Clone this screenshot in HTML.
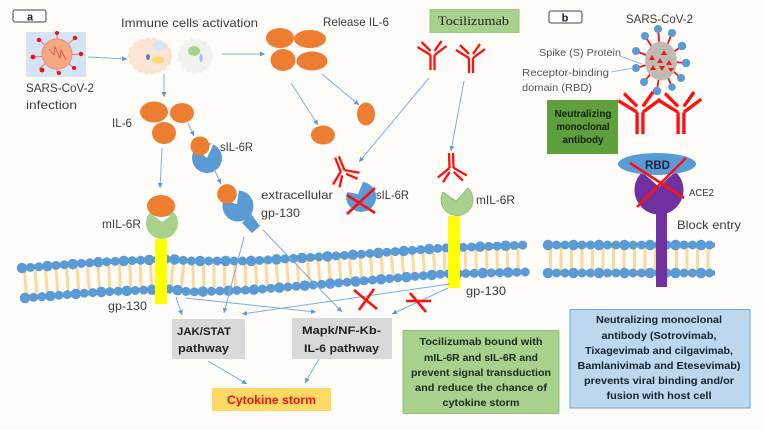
<!DOCTYPE html>
<html><head><meta charset="utf-8"><style>
html,body{margin:0;padding:0;background:#fdfcf8}
svg{display:block;filter:blur(.35px)}
text{font-family:"Liberation Sans",sans-serif;fill:#3c3c3c;font-size:11px}
.b{font-weight:bold;fill:#1c2a1c;font-size:10px;text-anchor:middle}
.g{font-weight:bold;fill:#222;font-size:11px}
.o{fill:#ed7d31}
.a line{stroke:#7ab0df;stroke-width:1;marker-end:url(#m)}
.x line{stroke:#ff1010;stroke-width:2.6}
.ab line{stroke:#ff0f0f;stroke-width:2.300}
</style></head><body>
<svg width="764" height="430" viewBox="0 0 764 430" xmlns="http://www.w3.org/2000/svg">
<defs>
<marker id="m" markerUnits="userSpaceOnUse" markerWidth="6" markerHeight="6" refX="5" refY="2.5" orient="auto"><path d="M0,0L5,2.5L0,5Z" fill="#5b9bd5"/></marker>
<g id="ab" class="ab">
<line x1="-2" y1="0" x2="-2" y2="-15"/><line x1="2" y1="0" x2="2" y2="-15"/>
<line x1="-2" y1="-15" x2="-15" y2="-23"/><line x1="2" y1="-15" x2="14" y2="-24"/>
<line x1="-2" y1="-19" x2="-11" y2="-28"/><line x1="2" y1="-19" x2="9" y2="-29"/>
</g>
</defs>
<rect width="764" height="430" fill="#fdfcf8"/>

<!-- labels a/b -->
<rect x="13" y="10" width="33" height="12" rx="2" fill="#fff" stroke="#444"/>
<text x="30" y="20.500" text-anchor="middle" style="font-size:11px;font-weight:bold;fill:#222">a</text>
<rect x="549" y="11" width="33" height="12" rx="2" fill="#fff" stroke="#444"/>
<text x="565" y="21.500" text-anchor="middle" style="font-size:11px;font-weight:bold;fill:#222">b</text>

<!-- infection virus -->
<rect x="26" y="32" width="60" height="45" fill="#d5e4f5"/>
<g stroke="#e8736a" stroke-width="1"><line x1="57" y1="33" x2="57" y2="73"/><line x1="75" y1="38" x2="39" y2="69"/><line x1="81" y1="54" x2="33" y2="57"/><line x1="74" y1="68" x2="39" y2="40"/></g>
<g fill="#f40f0f"><circle cx="57" cy="33" r="2"/><circle cx="75" cy="38" r="2.200"/><circle cx="81" cy="54" r="2.200"/><circle cx="74" cy="68" r="2"/><circle cx="59" cy="73" r="2"/><circle cx="42" cy="70" r="2.400"/><circle cx="33" cy="57" r="2.400"/><circle cx="39" cy="40" r="2.200"/></g>
<circle cx="57" cy="54" r="15" fill="#f4a981" stroke="#ee8a7a"/>
<path d="M49,49 L54,55 L55,47 L60,58 L61,50 L66,60" fill="none" stroke="#e8503a" stroke-width=".9"/>
<text x="26" y="92" textLength="68" lengthAdjust="spacingAndGlyphs" style="font-size:12px">SARS-CoV-2</text>
<text x="26" y="109" textLength="51" lengthAdjust="spacingAndGlyphs" style="font-size:12px">infection</text>

<!-- cells -->
<text x="121" y="27" textLength="137" lengthAdjust="spacingAndGlyphs" style="font-size:12px">Immune cells activation</text>
<ellipse cx="150" cy="56" rx="19" ry="15" fill="#fde5d6" stroke="#fde0ce" stroke-width="7" stroke-linecap="round" stroke-dasharray="0 6"/>
<ellipse cx="150" cy="56" rx="19" ry="15" fill="#fde5d6"/>
<ellipse cx="159" cy="46" rx="7" ry="5" fill="#dae3f3"/><ellipse cx="158" cy="60" rx="6" ry="3.500" fill="#ffd966"/><ellipse cx="148" cy="57" rx="2" ry="3" fill="#4a86c5"/>
<ellipse cx="195" cy="56" rx="14.500" ry="14.500" fill="#f1f1ee" stroke="#f1f1ee" stroke-width="7" stroke-linecap="round" stroke-dasharray="0 6"/>
<ellipse cx="194" cy="51" rx="6" ry="5" fill="#a9d18e"/><ellipse cx="201" cy="58" rx="1.700" ry="4" fill="#9dc3e6"/>

<!-- IL-6 cluster -->
<ellipse class="o" cx="154" cy="112" rx="14" ry="10.500"/><ellipse class="o" cx="182" cy="113" rx="12" ry="10"/><ellipse class="o" cx="164" cy="133" rx="12" ry="11"/>
<text x="112" y="127" textLength="20" lengthAdjust="spacingAndGlyphs" style="font-size:12px">IL-6</text>

<!-- sIL-6R -->
<circle cx="207" cy="158" r="15" fill="#5b9bd5"/><path d="M207,158 L214,143 L197,150Z" fill="#fff"/><circle class="o" cx="200" cy="146" r="9.500"/>
<text x="220" y="151" textLength="33" lengthAdjust="spacingAndGlyphs" style="font-size:12px">sIL-6R</text>

<!-- extracellular -->
<polygon points="242,223 251,214 260,226 252,233" fill="#5b9bd5"/>
<circle cx="238" cy="206" r="15.500" fill="#5b9bd5"/><path d="M237,204 L239,189 L224,201Z" fill="#fff"/><circle class="o" cx="227" cy="194" r="9.800"/>
<text x="261" y="199" textLength="72" lengthAdjust="spacingAndGlyphs" style="font-size:12px">extracellular</text>
<text x="261" y="217" textLength="39" lengthAdjust="spacingAndGlyphs" style="font-size:12px">gp-130</text>

<!-- membranes -->
<g fill="none">
<polyline points="24,283 100,277 170,274 190,276 250,275 350,268 443,261 527,258.600" stroke="#fbd99c" stroke-width="23" stroke-dasharray="3 7.500"/>
<polyline points="549,259 715,259" stroke="#fbd99c" stroke-width="23" stroke-dasharray="3 7.500"/>
<g stroke="#5b9bd5">
<polyline points="22,268 100,262 170,259 190,261 250,261 350,255 443,248 527,245" stroke-width="5"/>
<polyline points="25,298 100,292 170,289 190,292 250,290 350,282 443,274 527,272" stroke-width="5"/>
<polyline points="548,245 715,245" stroke-width="5"/>
<polyline points="548,273 715,273" stroke-width="5"/>
<g stroke-width="9" stroke-linecap="round" stroke-dasharray="0 8.500">
<polyline points="22,268 100,262 170,259 190,261 250,261 350,255 443,248 527,245"/>
<polyline points="25,298 100,292 170,289 190,292 250,290 350,282 443,274 527,272"/>
<polyline points="548,245 715,245"/>
<polyline points="548,273 715,273"/>
</g>
<g stroke-width="10.500" stroke-linecap="round" stroke-dasharray="0 25.500">
<polyline points="22,268 100,262 170,259 190,261 250,261 350,255 443,248 527,245"/>
<polyline points="25,298 100,292 170,289 190,292 250,290 350,282 443,274 527,272"/>
<polyline points="548,245 715,245"/>
<polyline points="548,273 715,273"/>
</g></g></g>

<!-- left receptor -->
<rect x="155" y="239" width="12" height="65" fill="#ffff00"/>
<circle cx="162" cy="223" r="16" fill="#a9d18e"/><path d="M154,216 L170,216 L162,222Z" fill="#fff"/>
<ellipse class="o" cx="161" cy="206" rx="14" ry="11"/>
<text x="102" y="228" textLength="39" lengthAdjust="spacingAndGlyphs" style="font-size:12px">mIL-6R</text>
<text x="108" y="310" textLength="39" lengthAdjust="spacingAndGlyphs" style="font-size:12px">gp-130</text>

<!-- release IL-6 -->
<text x="323" y="26" textLength="66" lengthAdjust="spacingAndGlyphs" style="font-size:12px">Release IL-6</text>
<ellipse class="o" cx="280" cy="38" rx="14" ry="10"/><ellipse class="o" cx="310" cy="39" rx="16" ry="9"/><ellipse class="o" cx="283" cy="60" rx="12.500" ry="11"/><ellipse class="o" cx="312" cy="61" rx="15.500" ry="9.500"/>
<ellipse class="o" cx="366" cy="114" rx="9" ry="11.500"/><ellipse class="o" cx="323" cy="135" rx="12" ry="9.500"/>

<!-- tocilizumab -->
<rect x="430" y="9.500" width="89" height="23" fill="#a9d18e" stroke="#8fc070" stroke-width=".8"/>
<text x="438" y="25" textLength="71" lengthAdjust="spacingAndGlyphs" style="font-family:'Liberation Serif',serif;font-size:13px;fill:#222">Tocilizumab</text>
<use href="#ab" transform="translate(432.500,70)"/>
<use href="#ab" transform="translate(471,73)"/>
<use href="#ab" transform="translate(451,153) rotate(178)"/>
<use href="#ab" transform="translate(337,157) rotate(158)"/>

<!-- blocked sIL-6R -->
<path d="M347,192 L358,194 L363,182 A15,15 0 1 1 347,192Z" fill="#5b9bd5"/>
<g class="x"><line x1="347" y1="195" x2="375" y2="213"/><line x1="375" y1="188" x2="347" y2="214"/></g>
<text x="376" y="199" textLength="33" lengthAdjust="spacingAndGlyphs" style="font-size:12px">sIL-6R</text>

<!-- right receptor -->
<rect x="448" y="216" width="12" height="72" fill="#ffff00"/>
<path d="M443,192 L456,201 L468,188 A16,16 0 1 1 443,192Z" fill="#a9d18e" stroke="#86b56a" stroke-width=".7"/>
<text x="476" y="204" textLength="39" lengthAdjust="spacingAndGlyphs" style="font-size:12px">mIL-6R</text>
<text x="466" y="295" textLength="40" lengthAdjust="spacingAndGlyphs" style="font-size:12px">gp-130</text>

<!-- arrows -->
<g class="a">
<line x1="88" y1="57" x2="127" y2="59"/>
<line x1="164" y1="74" x2="164" y2="97"/>
<line x1="222" y1="54" x2="265" y2="54"/>
<line x1="291" y1="83" x2="318" y2="125"/>
<line x1="322" y1="74" x2="359" y2="105"/>
<line x1="429" y1="78" x2="359" y2="162"/>
<line x1="464" y1="81" x2="451" y2="151"/>
<line x1="162" y1="148" x2="160" y2="188"/>
<line x1="188" y1="123" x2="194" y2="136"/>
<line x1="215" y1="171" x2="221" y2="184"/>
<line x1="244" y1="237" x2="224" y2="313"/>
<line x1="176" y1="297" x2="182" y2="315"/>
<line x1="185" y1="298" x2="316" y2="312"/>
<line x1="450" y1="284" x2="242" y2="314"/>
<line x1="263" y1="230" x2="342" y2="312"/>
<line x1="448" y1="288" x2="392" y2="314"/>
<line x1="208" y1="361" x2="247" y2="384"/>
<line x1="319" y1="359" x2="305" y2="383"/>
</g>

<!-- red X on membrane -->
<g class="x"><line x1="354" y1="290" x2="377" y2="309"/><line x1="374" y1="289" x2="359" y2="310"/><line x1="406" y1="301" x2="431" y2="301"/><line x1="410" y1="293" x2="426" y2="312"/></g>

<!-- pathway boxes -->
<rect x="172" y="319" width="73" height="40" fill="#d9d9d9"/>
<text class="g" x="177" y="335" textLength="54" lengthAdjust="spacingAndGlyphs">JAK/STAT</text>
<text class="g" x="178" y="352" textLength="51" lengthAdjust="spacingAndGlyphs">pathway</text>
<rect x="292" y="318" width="100" height="41" fill="#d9d9d9"/>
<text class="g" x="302" y="334" textLength="79" lengthAdjust="spacingAndGlyphs">Mapk/NF-Kb-</text>
<text class="g" x="304" y="352" textLength="75" lengthAdjust="spacingAndGlyphs">IL-6 pathway</text>
<rect x="212" y="388" width="119" height="23" fill="#ffd966"/>
<text x="227" y="404" textLength="89" lengthAdjust="spacingAndGlyphs" style="font-size:11.500px;font-weight:bold;fill:#f01010">Cytokine storm</text>

<!-- green text box -->
<rect x="403" y="330.500" width="156" height="83" fill="#a9d18e" stroke="#84b56a" stroke-width=".8"/>
<g>
<text class="b" x="481" y="345" textLength="123" lengthAdjust="spacingAndGlyphs">Tocilizumab bound with</text>
<text class="b" x="481" y="361" textLength="114" lengthAdjust="spacingAndGlyphs">mIL-6R and sIL-6R and</text>
<text class="b" x="481" y="376" textLength="140" lengthAdjust="spacingAndGlyphs">prevent signal transduction</text>
<text class="b" x="481" y="391" textLength="132" lengthAdjust="spacingAndGlyphs">and reduce the chance of</text>
<text class="b" x="481" y="406" textLength="77" lengthAdjust="spacingAndGlyphs">cytokine storm</text>
</g>

<!-- panel b virus -->
<text x="626" y="23" textLength="67" lengthAdjust="spacingAndGlyphs" style="font-size:12px">SARS-CoV-2</text>
<g stroke="#ff1010" stroke-width="1.800">
<line x1="661" y1="61" x2="658" y2="29"/><line x1="661" y1="61" x2="672" y2="33"/><line x1="661" y1="61" x2="645" y2="36"/><line x1="661" y1="61" x2="682" y2="46"/><line x1="661" y1="61" x2="686" y2="63"/><line x1="661" y1="61" x2="681" y2="78"/><line x1="661" y1="61" x2="672" y2="87"/><line x1="661" y1="61" x2="657" y2="91"/><line x1="661" y1="61" x2="644" y2="82"/><line x1="661" y1="61" x2="636" y2="68"/><line x1="661" y1="61" x2="636" y2="51"/>
</g>
<ellipse cx="661" cy="61" rx="16" ry="19.500" fill="#bfbbb2"/>
<g fill="#5b9bd5"><circle cx="658" cy="29" r="4"/><circle cx="672" cy="33" r="4"/><circle cx="645" cy="36" r="4"/><circle cx="682" cy="46" r="4.300"/><circle cx="686" cy="63" r="4.300"/><circle cx="681" cy="78" r="4"/><circle cx="672" cy="87" r="3.800"/><circle cx="657" cy="91" r="4.200"/><circle cx="644" cy="82" r="4"/><circle cx="636" cy="68" r="4"/><circle cx="636" cy="51" r="4"/></g>
<g fill="#ee1818"><path d="M664,50l3,5h-6z"/><path d="M652,55l3,5h-6z"/><path d="M660,58l3,5h-6z"/><path d="M669,60l3,5h-6z"/><path d="M653,65l3,5h-6z"/><path d="M662,71l3,-5h-6z"/><path d="M671,72l3,-4h-6z"/></g>
<line x1="620" y1="56" x2="642" y2="64" stroke="#8fbbdc"/><line x1="611" y1="72" x2="633" y2="68" stroke="#8fbbdc"/>
<g style="fill:#555"><text x="539" y="56" textLength="82" lengthAdjust="spacingAndGlyphs" style="font-size:10.500px;fill:#555">Spike (S) Protein</text>
<text x="522" y="76" textLength="87" lengthAdjust="spacingAndGlyphs" style="font-size:10.500px;fill:#555">Receptor-binding</text>
<text x="522" y="91" textLength="70" lengthAdjust="spacingAndGlyphs" style="font-size:10.500px;fill:#555">domain (RBD)</text></g>
<use href="#ab" transform="translate(640,134) scale(1.450)"/>
<use href="#ab" transform="translate(681,134) scale(1.450)"/>

<rect x="547" y="100" width="71" height="54" fill="#5f9f3c"/>
<text class="b" x="583" y="117" textLength="57" lengthAdjust="spacingAndGlyphs" style="fill:#102010">Neutralizing</text>
<text class="b" x="583" y="130" textLength="53" lengthAdjust="spacingAndGlyphs" style="fill:#102010">monoclonal</text>
<text class="b" x="583" y="143" textLength="41" lengthAdjust="spacingAndGlyphs" style="fill:#102010">antibody</text>

<!-- ACE2 -->
<rect x="656" y="205" width="11" height="82" fill="#7030a0"/>
<circle cx="659" cy="190" r="24.500" fill="#7030a0"/>
<path d="M640,170 L659,187 L677,170Z" fill="#fff"/>
<ellipse cx="657" cy="164" rx="39" ry="11" fill="#5b9bd5"/>
<text x="645" y="169" textLength="25" lengthAdjust="spacingAndGlyphs" style="font-size:12px;font-weight:bold;fill:#16263a">RBD</text>
<g class="x"><line x1="630" y1="163" x2="684" y2="198"/><line x1="686" y1="158" x2="637" y2="207"/></g>
<text x="689" y="196" textLength="25" lengthAdjust="spacingAndGlyphs" style="font-size:10.500px">ACE2</text>
<text x="677" y="229" textLength="64" lengthAdjust="spacingAndGlyphs" style="font-size:12px">Block entry</text>

<!-- blue box -->
<rect x="570" y="309.500" width="180" height="98.500" fill="#bdd7ee" stroke="#5b9bd5" stroke-width=".9"/>
<text class="b" x="659" y="323" textLength="126" lengthAdjust="spacingAndGlyphs" style="fill:#16222e">Neutralizing monoclonal</text>
<text class="b" x="659" y="339" textLength="115" lengthAdjust="spacingAndGlyphs" style="fill:#16222e">antibody (Sotrovimab,</text>
<text class="b" x="659" y="354" textLength="148" lengthAdjust="spacingAndGlyphs" style="fill:#16222e">Tixagevimab and cilgavimab,</text>
<text class="b" x="659" y="369" textLength="163" lengthAdjust="spacingAndGlyphs" style="fill:#16222e">Bamlanivimab and Etesevimab)</text>
<text class="b" x="659" y="384" textLength="150" lengthAdjust="spacingAndGlyphs" style="fill:#16222e">prevents viral binding and/or</text>
<text class="b" x="659" y="399" textLength="105" lengthAdjust="spacingAndGlyphs" style="fill:#16222e">fusion with host cell</text>
</svg>
</body></html>
